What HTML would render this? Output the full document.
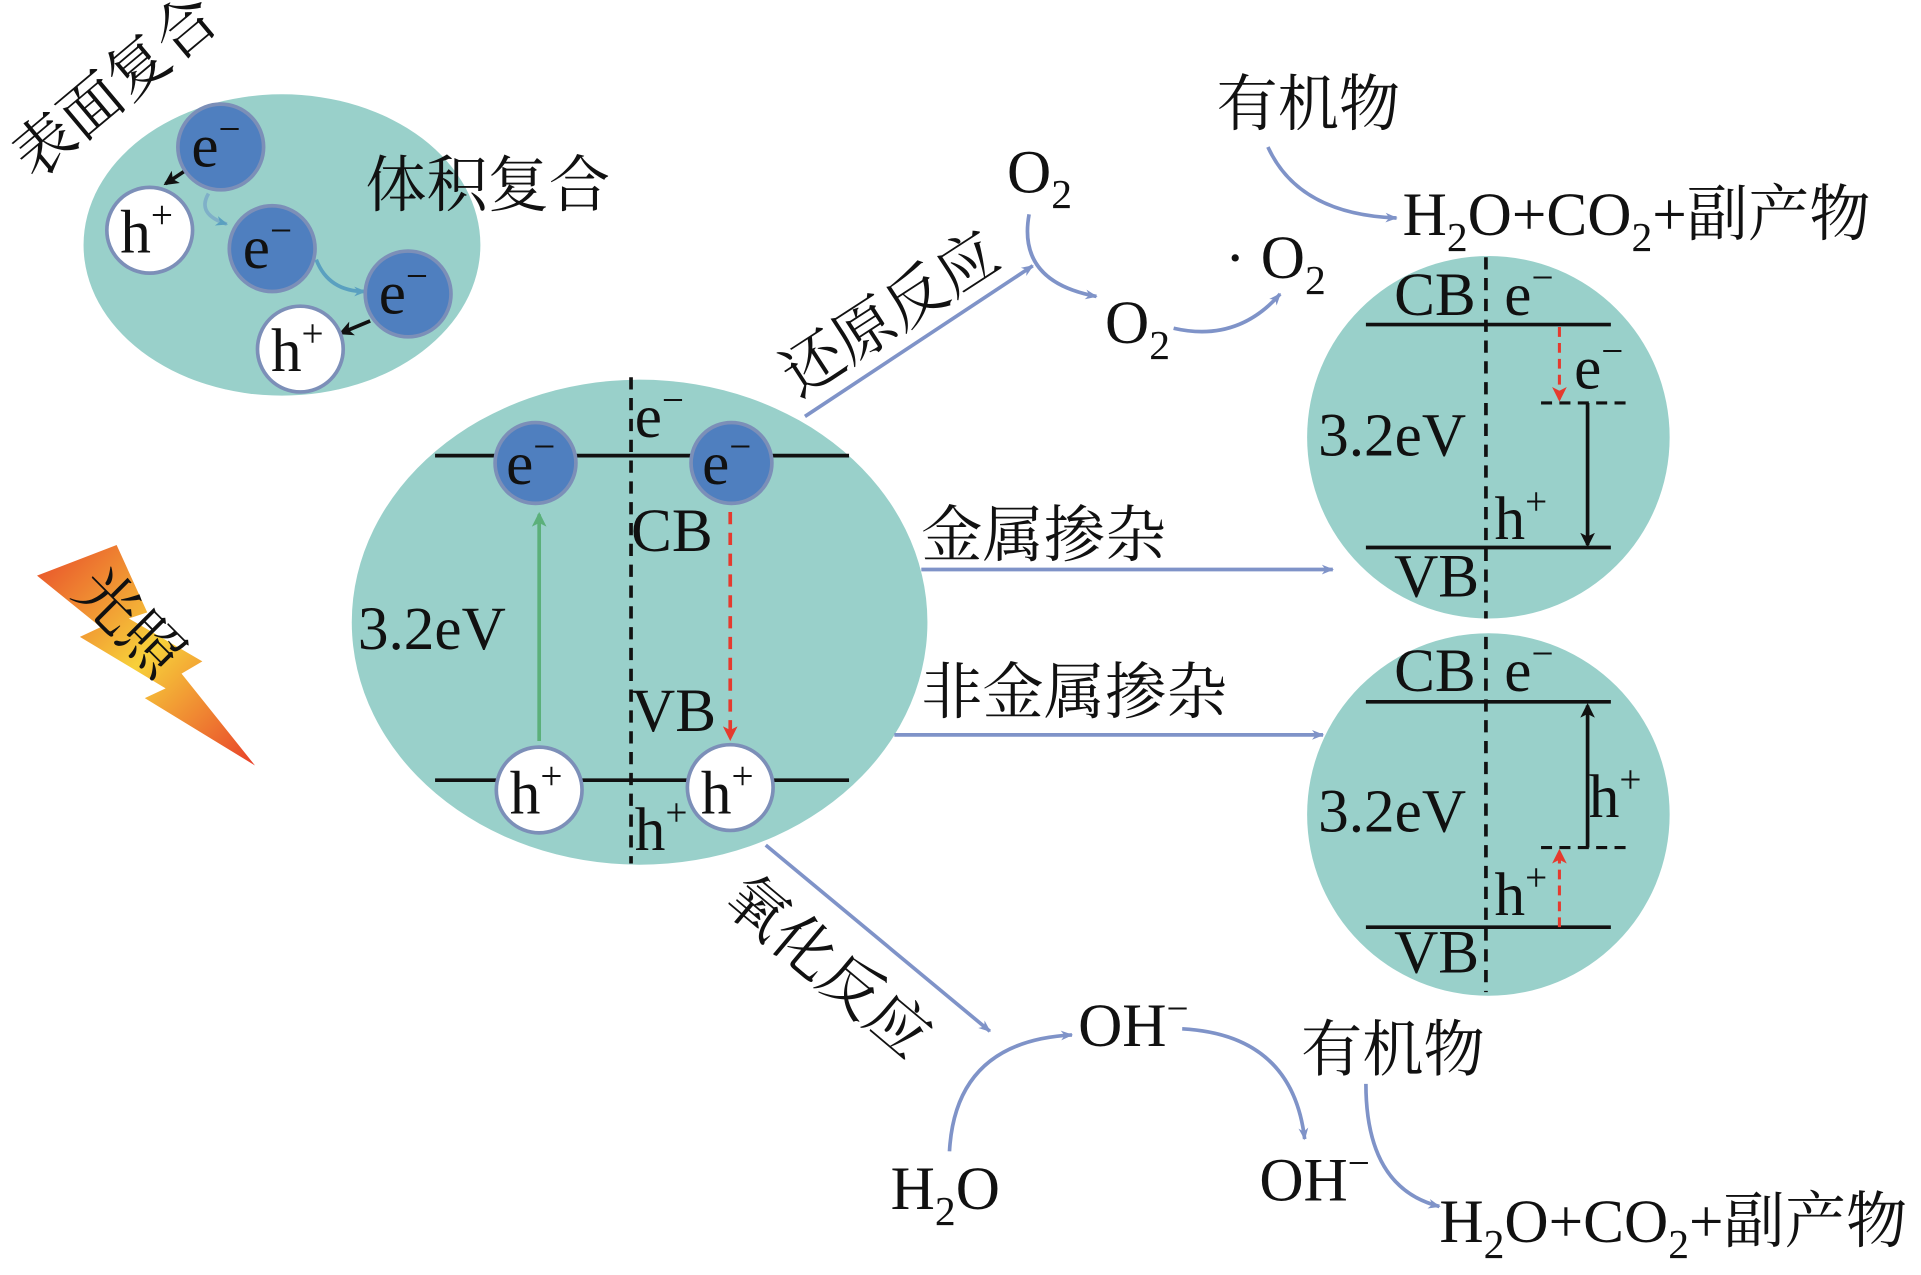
<!DOCTYPE html>
<html><head><meta charset="utf-8"><style>
html,body{margin:0;padding:0;background:#fff;}
svg{display:block;}
text{font-family:"Liberation Serif","Noto Serif CJK SC",serif;font-size:50px;fill:#111;}
.cn{font-family:"Liberation Serif","Noto Serif CJK SC",serif;}
</style></head><body>
<svg width="1921" height="1275" viewBox="0 0 1568 1041" xmlns="http://www.w3.org/2000/svg">
<defs>
<marker id="ab" markerWidth="10" markerHeight="10" refX="9" refY="5" orient="auto" markerUnits="userSpaceOnUse" viewBox="0 0 10 10"><path d="M0,1 L10,5 L0,9 L3,5z" fill="#7f93c8"/></marker>
<marker id="ak" markerWidth="12" markerHeight="14" refX="10" refY="7" orient="auto" markerUnits="userSpaceOnUse" viewBox="0 0 12 14"><path d="M0,1 L12,7 L0,13 L3,7z" fill="#111"/></marker>
<marker id="ar" markerWidth="12" markerHeight="14" refX="10" refY="7" orient="auto" markerUnits="userSpaceOnUse" viewBox="0 0 12 14"><path d="M0,1 L12,7 L0,13 L3,7z" fill="#e53a2e"/></marker>
<marker id="ag" markerWidth="12" markerHeight="14" refX="10" refY="7" orient="auto" markerUnits="userSpaceOnUse" viewBox="0 0 12 14"><path d="M0,1 L12,7 L0,13 L3,7z" fill="#5bb07a"/></marker>
<marker id="abl" markerWidth="10" markerHeight="10" refX="9" refY="5" orient="auto" markerUnits="userSpaceOnUse" viewBox="0 0 10 10"><path d="M0,1 L10,5 L0,9 L3,5z" fill="#5aa0c0"/></marker>
<linearGradient id="lg" x1="0" y1="0" x2="1" y2="1"><stop offset="0" stop-color="#e84a2a"/><stop offset="0.5" stop-color="#f7d03a"/><stop offset="1" stop-color="#e8402a"/></linearGradient>
</defs>
<ellipse cx="230" cy="200" rx="162" ry="123" fill="#99d0ca"/>
<text class="cn" transform="translate(28,148) rotate(-40)">表面复合</text>
<text class="cn" x="298" y="168">体积复合</text>
<path d="M170,158 Q160,175 185,183" stroke="#7fb0c8" stroke-width="3" fill="none" marker-end="url(#abl)"/>
<path d="M258,212 Q268,238 298,238" stroke="#5aa0c0" stroke-width="3" fill="none" marker-end="url(#abl)"/>
<line x1="150" y1="140" x2="135" y2="150" stroke="#111" stroke-width="3" marker-end="url(#ak)"/>
<line x1="302" y1="262" x2="278" y2="272" stroke="#111" stroke-width="3" marker-end="url(#ak)"/>
<g stroke="#7c8fb8" stroke-width="3">
<circle cx="180" cy="120" r="35" fill="#4f7fbf"/>
<circle cx="222" cy="203" r="35" fill="#4f7fbf"/>
<circle cx="333" cy="240" r="35" fill="#4f7fbf"/>
<circle cx="122" cy="188" r="35" fill="#fff"/>
<circle cx="245" cy="285" r="35" fill="#fff"/>
</g>
<text x="156" y="136">e<tspan dy="-20" font-size="32">−</tspan></text>
<text x="198" y="219">e<tspan dy="-20" font-size="32">−</tspan></text>
<text x="309" y="256">e<tspan dy="-20" font-size="32">−</tspan></text>
<text x="98" y="206">h<tspan dy="-20" font-size="32">+</tspan></text>
<text x="221" y="303">h<tspan dy="-20" font-size="32">+</tspan></text>
<polygon points="30,470 95,445 120,500 105,505 165,540 148,550 208,625 118,570 135,562 65,520 82,512" fill="url(#lg)"/>
<text class="cn" transform="translate(58,485) rotate(45)">光照</text>
<ellipse cx="522" cy="508" rx="235" ry="198" fill="#99d0ca"/>
<line x1="355" y1="372" x2="693" y2="372" stroke="#111" stroke-width="3"/>
<line x1="355" y1="637" x2="693" y2="637" stroke="#111" stroke-width="3"/>
<line x1="515" y1="308" x2="515" y2="705" stroke="#111" stroke-width="3" stroke-dasharray="10,7"/>
<line x1="440" y1="605" x2="440" y2="420" stroke="#5bb07a" stroke-width="3" marker-end="url(#ag)"/>
<line x1="596" y1="418" x2="596" y2="603" stroke="#e53a2e" stroke-width="3" stroke-dasharray="10,7" marker-end="url(#ar)"/>
<g stroke="#7c8fb8" stroke-width="3">
<circle cx="437" cy="378" r="33" fill="#4f7fbf"/>
<circle cx="597" cy="378" r="33" fill="#4f7fbf"/>
<circle cx="440" cy="645" r="35" fill="#fff"/>
<circle cx="596" cy="643" r="35" fill="#fff"/>
</g>
<text x="413" y="395">e<tspan dy="-20" font-size="32">−</tspan></text>
<text x="573" y="395">e<tspan dy="-20" font-size="32">−</tspan></text>
<text x="416" y="664">h<tspan dy="-20" font-size="32">+</tspan></text>
<text x="572" y="664">h<tspan dy="-20" font-size="32">+</tspan></text>
<text x="518" y="357">e<tspan dy="-20" font-size="32">−</tspan></text>
<text x="515" y="450">CB</text>
<text x="515" y="597">VB</text>
<text x="292" y="530">3.2eV</text>
<text x="518" y="694">h<tspan dy="-20" font-size="32">+</tspan></text>
<g stroke="#7f93c8" stroke-width="3" fill="none">
<line x1="657" y1="340" x2="843" y2="217" marker-end="url(#ab)"/>
<line x1="752" y1="465" x2="1088" y2="465" marker-end="url(#ab)"/>
<line x1="730" y1="600" x2="1080" y2="600" marker-end="url(#ab)"/>
<line x1="625" y1="690" x2="808" y2="842" marker-end="url(#ab)"/>
<path d="M840,175 Q830,230 895,242" marker-end="url(#ab)"/>
<path d="M958,268 Q1010,280 1045,240" marker-end="url(#ab)"/>
<path d="M1035,120 Q1060,175 1140,178" marker-end="url(#ab)"/>
<path d="M775,940 Q780,850 875,845" marker-end="url(#ab)"/>
<path d="M965,840 Q1055,845 1065,930" marker-end="url(#ab)"/>
<path d="M1115,885 Q1115,970 1175,985" marker-end="url(#ab)"/>
</g>
<text class="cn" transform="translate(652,325) rotate(-33)">还原反应</text>
<text class="cn" x="752" y="454">金属掺杂</text>
<text class="cn" x="752" y="582">非金属掺杂</text>
<text class="cn" transform="translate(588,738) rotate(40)">氧化反应</text>
<text x="822" y="157">O<tspan dy="13" font-size="34">2</tspan></text>
<text x="902" y="280">O<tspan dy="13" font-size="34">2</tspan></text>
<text x="1000" y="227">· O<tspan dy="13" font-size="34">2</tspan></text>
<text class="cn" x="993" y="102">有机物</text>
<text x="1145" y="192">H<tspan dy="13" font-size="34">2</tspan><tspan dy="-13">O+CO</tspan><tspan dy="13" font-size="34">2</tspan><tspan dy="-13" class="cn">+副产物</tspan></text>
<text x="727" y="987">H<tspan dy="13" font-size="34">2</tspan><tspan dy="-13">O</tspan></text>
<text x="880" y="854">OH<tspan dy="-20" font-size="32">−</tspan></text>
<text x="1028" y="980">OH<tspan dy="-20" font-size="32">−</tspan></text>
<text class="cn" x="1062" y="874">有机物</text>
<text x="1175" y="1014">H<tspan dy="13" font-size="34">2</tspan><tspan dy="-13">O+CO</tspan><tspan dy="13" font-size="34">2</tspan><tspan dy="-13" class="cn">+副产物</tspan></text>
<circle cx="1215" cy="357" r="148" fill="#99d0ca"/>
<line x1="1115" y1="265" x2="1315" y2="265" stroke="#111" stroke-width="3"/>
<line x1="1115" y1="447" x2="1315" y2="447" stroke="#111" stroke-width="3"/>
<line x1="1213" y1="210" x2="1213" y2="505" stroke="#111" stroke-width="3" stroke-dasharray="10,7"/>
<line x1="1258" y1="329" x2="1332" y2="329" stroke="#111" stroke-width="2.5" stroke-dasharray="9,6"/>
<line x1="1273" y1="267" x2="1273" y2="326" stroke="#e53a2e" stroke-width="2.5" stroke-dasharray="8,5" marker-end="url(#ar)"/>
<line x1="1296" y1="329" x2="1296" y2="445" stroke="#111" stroke-width="3" marker-end="url(#ak)"/>
<text x="1138" y="257">CB</text>
<text x="1228" y="257">e<tspan dy="-20" font-size="32">−</tspan></text>
<text x="1285" y="317">e<tspan dy="-20" font-size="32">−</tspan></text>
<text x="1076" y="372">3.2eV</text>
<text x="1220" y="440">h<tspan dy="-20" font-size="32">+</tspan></text>
<text x="1138" y="487">VB</text>
<circle cx="1215" cy="665" r="148" fill="#99d0ca"/>
<line x1="1115" y1="573" x2="1315" y2="573" stroke="#111" stroke-width="3"/>
<line x1="1115" y1="757" x2="1315" y2="757" stroke="#111" stroke-width="3"/>
<line x1="1213" y1="520" x2="1213" y2="810" stroke="#111" stroke-width="3" stroke-dasharray="10,7"/>
<line x1="1258" y1="692" x2="1332" y2="692" stroke="#111" stroke-width="2.5" stroke-dasharray="9,6"/>
<line x1="1296" y1="692" x2="1296" y2="576" stroke="#111" stroke-width="3" marker-end="url(#ak)"/>
<line x1="1273" y1="757" x2="1273" y2="695" stroke="#e53a2e" stroke-width="2.5" stroke-dasharray="8,5" marker-end="url(#ar)"/>
<text x="1138" y="564">CB</text>
<text x="1228" y="564">e<tspan dy="-20" font-size="32">−</tspan></text>
<text x="1076" y="679">3.2eV</text>
<text x="1297" y="667">h<tspan dy="-20" font-size="32">+</tspan></text>
<text x="1220" y="747">h<tspan dy="-20" font-size="32">+</tspan></text>
<text x="1138" y="794">VB</text>
</svg>
</body></html>
